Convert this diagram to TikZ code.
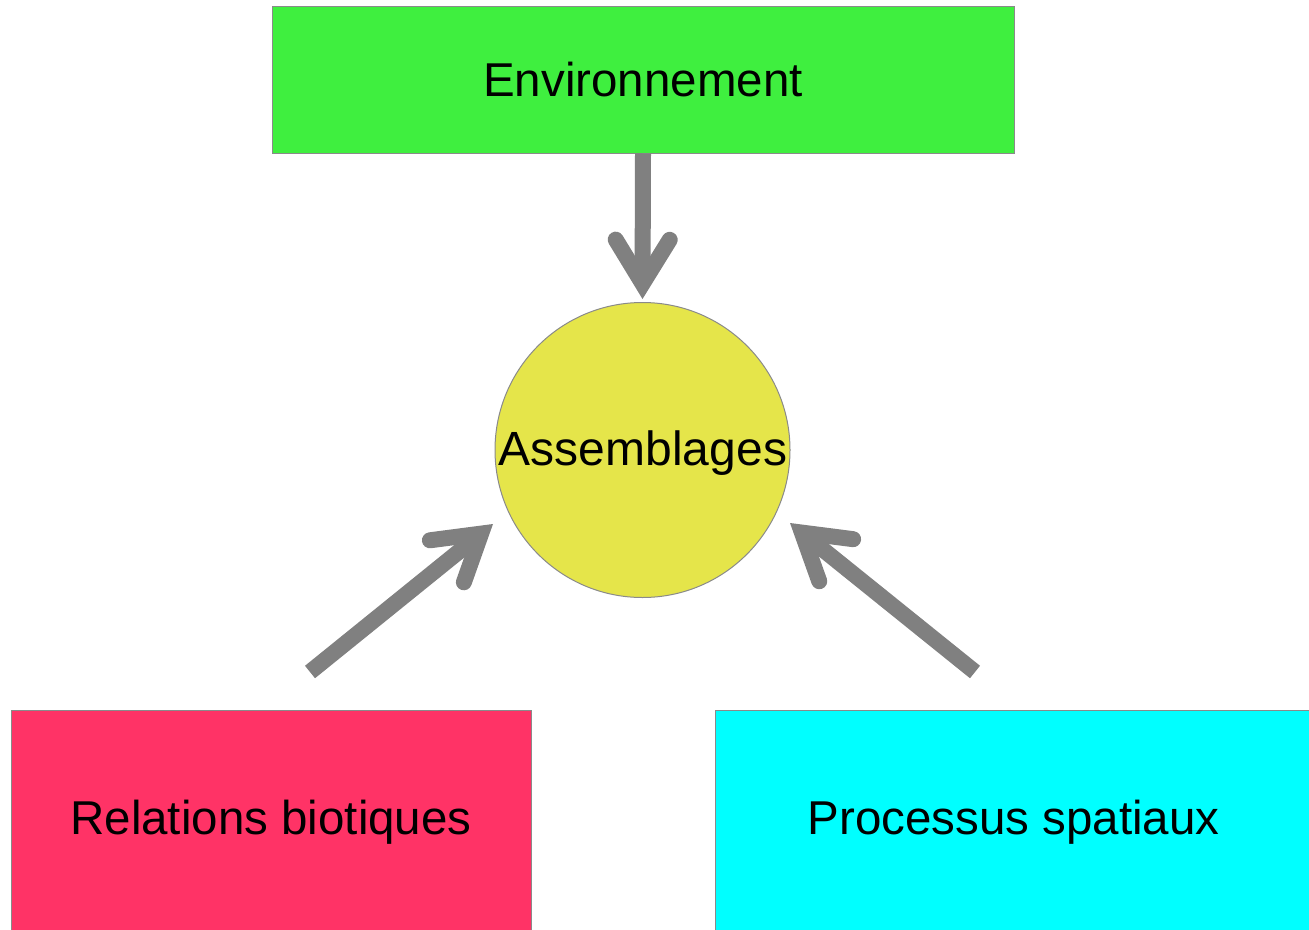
\documentclass[tikz,border=0pt]{standalone}
\usepackage{fontspec}
\setmainfont{Liberation Sans}
\usetikzlibrary{arrows.meta}
\definecolor{envgreen}{HTML}{3FEF3F}
\definecolor{assyellow}{HTML}{E5E54A}
\definecolor{relred}{HTML}{FF3366}
\definecolor{proccyan}{HTML}{00FFFF}
\definecolor{arrowgray}{HTML}{808080}
\definecolor{bordergray}{HTML}{8A8A8A}
\tikzset{
  box/.style={draw=bordergray, line width=1pt, rectangle, inner sep=0pt, font=\fontsize{47.5}{57}\selectfont},
  bigarrow/.style={draw=arrowgray, line width=16pt,
    -{Straight Barb[length=44pt, width=54pt, line cap=round, line join=miter]}},
}
\begin{document}
\begin{tikzpicture}[x=1pt,y=-1pt]
\useasboundingbox (0,0) rectangle (1309,929);
\node[box, fill=envgreen, minimum width=742pt, minimum height=147pt] (env) at (643,79.5) {Environnement};
\node[circle, draw=bordergray, line width=1pt, fill=assyellow, minimum size=295pt, inner sep=0pt] (ass) at (642.5,450) {};
\node[inner sep=0pt, font=\fontsize{48}{57}\selectfont] (asstext) at (643,453) {Assemblages};
\node[box, fill=relred, minimum width=520pt, minimum height=224pt] (rel) at (271,822) {Relations biotiques};
\node[box, fill=proccyan, minimum width=596pt, minimum height=224pt] (proc) at (1013.5,822) {Processus spatiaux};
\coordinate (t1) at (310,672);
\coordinate (h1) at (493,524);
\coordinate (t2) at (975,672);
\coordinate (h2) at (790,523);
\coordinate (h0) at (642.5,299);
\draw[bigarrow] (env.south) -- (h0);
\draw[bigarrow] (t1) -- (h1);
\draw[bigarrow] (t2) -- (h2);
\end{tikzpicture}
\end{document}
